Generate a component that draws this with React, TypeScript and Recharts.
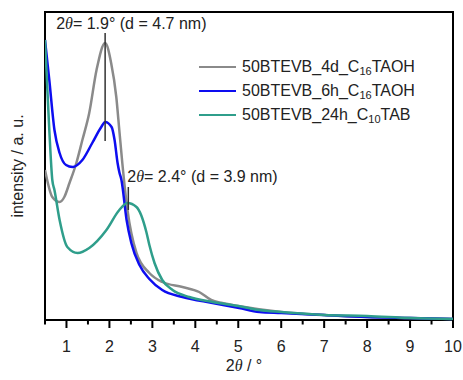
import React from 'react'
import {
    LineChart, Line, XAxis, YAxis, ReferenceLine, ReferenceArea, Legend,
} from 'recharts'

// 2θ in degrees, intensity in arbitrary units
const grayX = [0.5, 0.67, 0.84, 0.95, 1.07, 1.23, 1.37, 1.53, 1.7, 1.9, 2.04, 2.16, 2.23, 2.3, 2.42, 2.63, 2.93, 3.23, 3.7, 4.09, 4.37, 4.63, 5, 6, 7, 8, 9, 10]
const grayY = [150, 123, 118, 123, 137, 157, 180, 207, 250, 277, 257, 223, 190, 157, 110, 67, 47, 38, 33, 28, 20, 17, 14, 8, 5, 3, 2, 1]

const blueX = [0.5, 0.6, 0.72, 0.84, 0.99, 1.14, 1.37, 1.6, 1.81, 1.9, 2.05, 2.12, 2.19, 2.23, 2.28, 2.4, 2.51, 2.7, 2.93, 3.23, 3.7, 4.4, 5.02, 5.49, 6, 7, 8, 9, 10]
const blueY = [280, 240, 190, 167, 155, 153, 160, 177, 193, 198, 193, 180, 157, 148, 140, 100, 77, 55, 41, 30, 23, 17, 12, 8, 7, 5, 3, 2, 1]

const tealX = [0.5, 0.6, 0.67, 0.72, 0.84, 1.02, 1.26, 1.53, 1.93, 2.23, 2.42, 2.63, 2.86, 2.93, 3.05, 3.23, 3.47, 3.86, 4.4, 5, 5.49, 6, 7, 8, 9, 10]
const tealY = [280, 190, 140, 130, 100, 73, 67, 72, 90, 110, 117, 113, 88, 75, 57, 40, 30, 23, 18, 14, 10, 8, 5, 4, 2, 1]

const xTicks = [0.5, 1, 1.5, 2, 2.5, 3, 3.5, 4, 4.5, 5, 5.5, 6, 6.5, 7, 7.5, 8, 8.5, 9, 9.5, 10]

const series = [
    { key: 'gray', name: '50BTEVB_4d_C', sub: '16', tail: 'TAOH', color: '#8a8a8a', xs: grayX, ys: grayY },
    { key: 'blue', name: '50BTEVB_6h_C', sub: '16', tail: 'TAOH', color: '#0d0df0', xs: blueX, ys: blueY },
    { key: 'teal', name: '50BTEVB_24h_C', sub: '10', tail: 'TAB', color: '#2f9e8b', xs: tealX, ys: tealY },
]

// peak markers: position, d-spacing, marker span
const peaks = [
    { at: 1.9, label: '1.9', d: '4.7', y1: 179, y2: 287, dx: -49, dy: -4 },
    { at: 2.44, label: '2.4', d: '3.9', y1: 110, y2: 133, dx: -1, dy: -5 },
]

const font = '"Liberation Sans", Arial, sans-serif'

function XTick(props: any) {
    const { x, y, payload } = props
    const major = Number.isInteger(payload.value)
    return (
        <g>
            <line x1={x} x2={x} y1={y} y2={y + (major ? 8 : 4.5)} stroke="#000" strokeWidth={2} />
            {major && (
                <text x={x} y={y + 32} textAnchor="middle" fontSize={16} fontFamily={font} fill="#222">
                    {payload.value}
                </text>
            )}
        </g>
    )
}

function PeakText(p: { label: string; d: string; dx: number; dy: number }) {
    return (props: any) => {
        const vb = props.viewBox || {}
        return (
            <text x={vb.x + p.dx} y={vb.y + p.dy} fontSize={16} fontFamily={font} fill="#222">
                <tspan>2</tspan>
                <tspan fontStyle="italic" fontFamily='"Liberation Serif", serif'>θ</tspan>
                <tspan>{`= ${p.label}° (d = ${p.d} nm)`}</tspan>
            </text>
        )
    }
}

function LegendBox() {
    return (
        <div style={{ fontFamily: font, fontSize: 16, color: '#222' }}>
            {series.map(s => (
                <div key={s.key} style={{ display: 'flex', alignItems: 'center', height: 24 }}>
                    <span style={{ display: 'inline-block', width: 37, height: 0, borderTop: `2.5px solid ${s.color}`, marginRight: 6 }} />
                    <span style={{ whiteSpace: 'nowrap', lineHeight: '18px' }}>
                        {s.name}<sub style={{ fontSize: 11, verticalAlign: '-3px', lineHeight: 0 }}>{s.sub}</sub>{s.tail}
                    </span>
                </div>
            ))}
        </div>
    )
}

export default function App() {
    const data = series.map(s => s.xs.map((x, i) => ({ x, y: s.ys[i] })))

    return (
        <div style={{ position: 'absolute', left: 0, top: 0, width: 463, height: 380, background: '#fff' }}>
            <LineChart width={463} height={380} margin={{ top: 12, right: 10, bottom: 20, left: 44 }}>
                <XAxis
                    xAxisId="b"
                    type="number"
                    dataKey="x"
                    domain={[0.5, 10]}
                    ticks={xTicks}
                    interval={0}
                    allowDataOverflow
                    height={40}
                    tickSize={0}
                    tickMargin={0}
                    tickLine={false}
                    tick={<XTick />}
                    axisLine={false}
                    label={(props: any) => {
                        const vb = props.viewBox
                        return (
                            <text x={vb.x + vb.width / 2 - 5} y={371} textAnchor="middle" fontSize={16} fontFamily={font} fill="#222">
                                <tspan>2</tspan>
                                <tspan fontStyle="italic" fontFamily='"Liberation Serif", serif'>θ</tspan>
                                <tspan> / °</tspan>
                            </text>
                        )
                    }}
                />
                <YAxis
                    yAxisId="l"
                    domain={[0, 308]}
                    width={1}
                    tick={false}
                    tickLine={false}
                    axisLine={false}
                    label={(props: any) => {
                        const vb = props.viewBox
                        const cy = vb.y + vb.height / 2
                        return (
                            <text x={23} y={cy} transform={`rotate(-90 23 ${cy})`} textAnchor="middle" fontSize={16} fontFamily={font} fill="#222">
                                intensity / a. u.
                            </text>
                        )
                    }}
                />
                <ReferenceArea
                    xAxisId="b"
                    yAxisId="l"
                    x1={0.5}
                    x2={10}
                    y1={0}
                    y2={308}
                    fill="none"
                    stroke="#000"
                    strokeWidth={2}
                    ifOverflow="visible"
                />
                {series.map((s, i) => (
                    <Line
                        key={s.key}
                        xAxisId="b"
                        yAxisId="l"
                        data={data[i]}
                        dataKey="y"
                        name={s.key}
                        type="monotone"
                        stroke={s.color}
                        strokeWidth={2.5}
                        dot={false}
                        isAnimationActive={false}
                    />
                ))}
                {peaks.map(p => (
                    <ReferenceLine
                        key={p.label}
                        xAxisId="b"
                        yAxisId="l"
                        segment={[{ x: p.at, y: p.y2 }, { x: p.at, y: p.y1 }]}
                        stroke="#333"
                        strokeWidth={1.5}
                        label={PeakText(p)}
                    />
                ))}
                <Legend
                    layout="vertical"
                    align="center"
                    verticalAlign="middle"
                    content={() => <LegendBox />}
                    wrapperStyle={{ left: 199, top: 55, width: 'auto' }}
                />
            </LineChart>
        </div>
    )
}
